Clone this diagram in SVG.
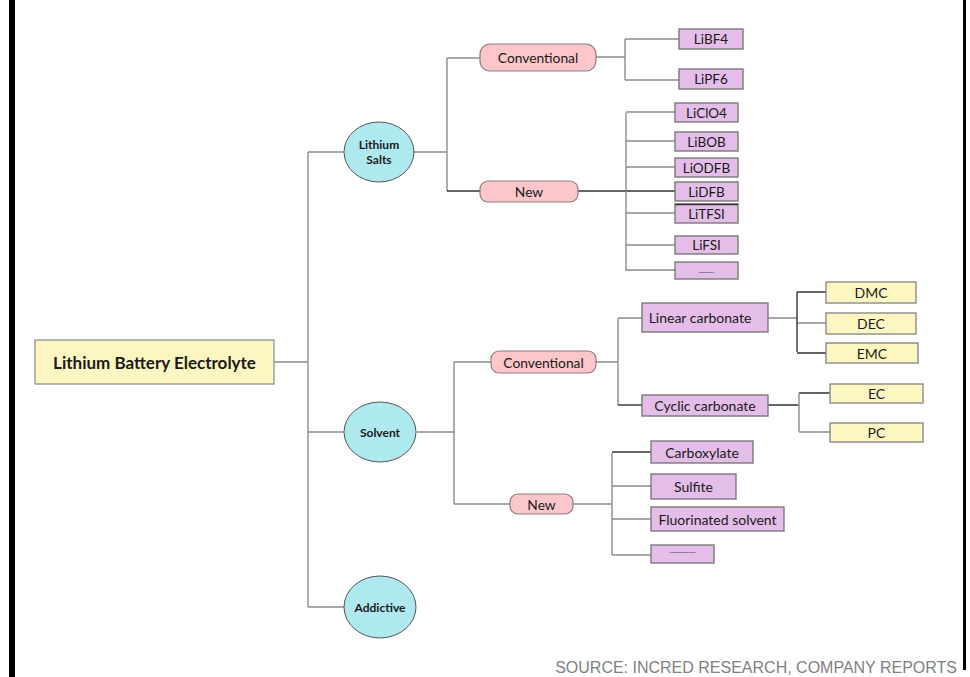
<svg xmlns="http://www.w3.org/2000/svg" width="970" height="677" viewBox="0 0 970 677">
<style>
.t{font-family:Lato,"Open Sans","Liberation Sans",sans-serif;fill:#1a1a1a;text-anchor:middle;dominant-baseline:central}
.b{font-weight:bold}
.s{font-size:13.5px}
.m{font-size:14px}
.ln{fill:none;stroke:#8c8c8c;stroke-width:1.4}
.dk{fill:none;stroke:#333;stroke-width:1.4}
.root{fill:#fdf6c0;stroke:#9a9a9a;stroke-width:1.4}
.ell{fill:#aee9f0;stroke:#555;stroke-width:1}
.pill{fill:#fcc6ca;stroke:#8a7f80;stroke-width:1.2}
.pur{fill:#e4bde8;stroke:#7a7a7a;stroke-width:1.4}
.yel{fill:#fdf6c0;stroke:#8a8a8a;stroke-width:1.4}
</style>
<rect x="0" y="0" width="970" height="677" fill="#ffffff"/>
<rect x="9" y="0" width="6" height="677" fill="#000"/>
<rect x="963" y="0" width="3" height="670" fill="#000"/>

<g id="connectors">
  <path class="ln" d="M274,362 H308 M308,152 V607 M308,152 H344 M308,432 H344 M308,607 H344"/>
  <path class="ln" d="M414,152 H447 M447,58 V191 M447,58 H480"/>
  <path class="dk" d="M447,191 H480"/>
  <path class="ln" d="M596,57 H625 M625,39 V80 M625,39 H679 M625,80 H679"/>
  <path class="dk" d="M578,191 H675"/>
  <path class="ln" d="M626,113 V271 M626,112 H675 M626,141 H675 M626,167 H675 M626,213 H675 M626,245 H675 M626,270 H675"/>
  <path class="ln" d="M417,432 H454 M454,362 V504 M454,362 H491 M454,504 H510"/>
  <path class="ln" d="M596,362 H618 M618,318 V405 M618,318 H642"/>
  <path class="dk" d="M618,405 H642"/>
  <path class="ln" d="M768,318 H797 M797,323 H826"/>
  <path class="dk" d="M797,292 V352 M797,292 H826 M797,353 H826"/>
  <path class="dk" d="M768,405 H799 M799,393 H830"/>
  <path class="ln" d="M799,393 V432 M799,432 H830"/>
  <path class="ln" d="M573,504 H612 M612,453 V555 M612,486 H651 M612,519 H651 M612,555 H651"/>
  <path class="dk" d="M612,452 H651"/>
</g>

<g id="root"><rect class="root" x="35" y="340" width="239" height="44"/><text class="t b" x="154.5" y="362" font-size="17">Lithium Battery Electrolyte</text></g>

<g id="lithium-salts"><ellipse class="ell" cx="379" cy="152" rx="35" ry="30"/><text class="t b" x="379" y="144" font-size="12">Lithium</text><text class="t b" x="379" y="159" font-size="12">Salts</text></g>
<g id="solvent"><ellipse class="ell" cx="380" cy="432" rx="36" ry="30"/><text class="t b" x="380" y="432" font-size="12">Solvent</text></g>
<g id="addictive"><ellipse class="ell" cx="380" cy="607" rx="36" ry="31"/><text class="t b" x="380" y="607" font-size="12">Addictive</text></g>

<g id="salts-conventional"><rect class="pill" x="480" y="44" width="116" height="27" rx="10"/><text class="t" x="538" y="57.5" font-size="13.8">Conventional</text></g>
<g id="salts-new"><rect class="pill" x="480" y="181" width="98" height="21" rx="8"/><text class="t" x="529" y="191.5" font-size="13.8">New</text></g>

<g id="libf4"><rect class="pur" x="679" y="29" width="64" height="20"/><text class="t s" x="711" y="39">LiBF4</text></g>
<g id="lipf6"><rect class="pur" x="679" y="69" width="64" height="20"/><text class="t s" x="711" y="79">LiPF6</text></g>
<g id="liclo4"><rect class="pur" x="675" y="103" width="63" height="19"/><text class="t s" x="706.5" y="112.5">LiClO4</text></g>
<g id="libob"><rect class="pur" x="675" y="132" width="63" height="19"/><text class="t s" x="706.5" y="141.5">LiBOB</text></g>
<g id="liodfb"><rect class="pur" x="675" y="158" width="63" height="19"/><text class="t s" x="706.5" y="167.5">LiODFB</text></g>
<g id="lidfb"><rect class="pur" x="675" y="182" width="63" height="19"/><text class="t s" x="706.5" y="191.5">LiDFB</text></g>
<g id="litfsi"><rect class="pur" x="675" y="204" width="63" height="19"/><path class="dk" d="M675,204.5 H738"/><text class="t s" x="706.5" y="213.5">LiTFSI</text></g>
<g id="lifsi"><rect class="pur" x="675" y="236" width="63" height="18"/><text class="t s" x="706.5" y="245">LiFSI</text></g>
<g id="salts-more"><rect class="pur" x="675" y="262" width="63" height="17"/><text class="t" x="706.5" y="270" font-size="7">………</text></g>

<g id="solvent-conventional"><rect class="pill" x="491" y="351" width="105" height="22" rx="8"/><text class="t" x="543.5" y="362" font-size="13.8">Conventional</text></g>
<g id="solvent-new"><rect class="pill" x="510" y="494" width="63" height="20" rx="8"/><text class="t" x="541.5" y="504" font-size="13.8">New</text></g>

<g id="linear-carbonate"><rect class="pur" x="642" y="303" width="126" height="29"/><text class="t m" x="700" y="317.5">Linear carbonate</text></g>
<g id="cyclic-carbonate"><rect class="pur" x="642" y="395" width="126" height="21"/><text class="t m" x="705" y="405.5">Cyclic carbonate</text></g>

<g id="dmc"><rect class="yel" x="826" y="282" width="90" height="21"/><text class="t m" x="871" y="292.5">DMC</text></g>
<g id="dec"><rect class="yel" x="826" y="313" width="90" height="21"/><text class="t m" x="871" y="323.5">DEC</text></g>
<g id="emc"><rect class="yel" x="826" y="343" width="92" height="20"/><text class="t m" x="872" y="353">EMC</text></g>
<g id="ec"><rect class="yel" x="830" y="384" width="93" height="19"/><text class="t m" x="876.5" y="393.5">EC</text></g>
<g id="pc"><rect class="yel" x="830" y="423" width="93" height="19"/><text class="t m" x="876.5" y="432.5">PC</text></g>

<g id="carboxylate"><rect class="pur" x="651" y="441" width="102" height="22"/><text class="t m" x="702" y="452">Carboxylate</text></g>
<g id="sulfite"><rect class="pur" x="651" y="474" width="85" height="25"/><text class="t m" x="693.5" y="486.5">Sulfite</text></g>
<g id="fluorinated-solvent"><rect class="pur" x="651" y="507" width="133" height="24"/><text class="t m" x="717.5" y="519">Fluorinated solvent</text></g>
<g id="solvent-more"><rect class="pur" x="651" y="545" width="63" height="18"/><text class="t" x="682.5" y="550" font-size="7">……………</text></g>

<text x="957" y="673" font-family="'Liberation Sans',Arial,sans-serif" font-size="16" fill="#7f7f7f" text-anchor="end">SOURCE: INCRED RESEARCH, COMPANY REPORTS</text>
</svg>
